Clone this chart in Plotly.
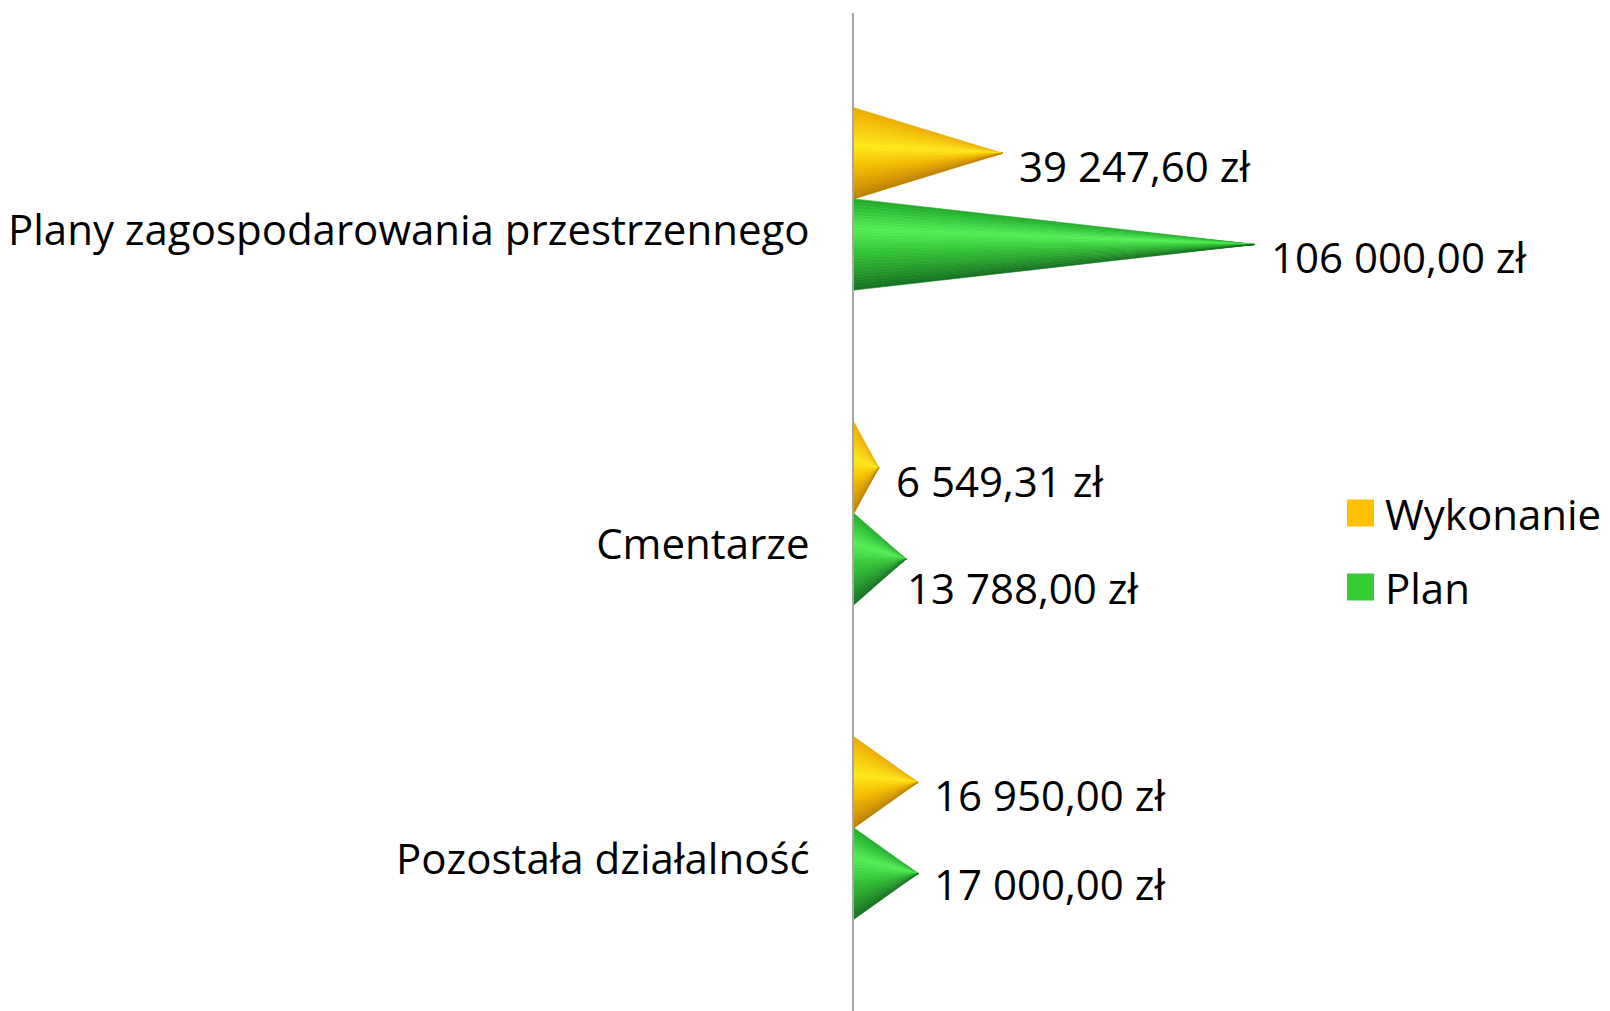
import plotly.graph_objects as go

# ---------------- data ----------------
categories = ["Plany zagospodarowania przestrzennego", "Cmentarze", "Pozostała działalność"]
wykonanie = [39247.60, 6549.31, 16950.00]
plan = [106000.00, 13788.00, 17000.00]
series_names = ["Wykonanie", "Plan"]

# ---------------- style ----------------
W, H = 1610, 1011
FONT = "Open Sans"
FS = 42
legend_colors = ["#FFC000", "#33CC33"]
grad_stops = [
    [(0.0, "#EBAA00"), (0.42, "#FFE81A"), (0.65, "#F4BE00"), (0.88, "#D49600"), (1.0, "#B88000")],
    [(0.0, "#1FAA2A"), (0.33, "#55EE55"), (0.6, "#33C236"), (0.85, "#22922A"), (1.0, "#157020")],
]
# label offsets (px) per series per category
label_dx = [[15, 15, 14], [14, -1, 14]]
label_dy = [[12, 13, 12], [12, 28, 10]]

HALF = 0.29      # bar thickness in category units
NSTRIP = 28

M_L, M_T = 854, 13
plot_w, plot_h = W - M_L, H - M_T
X_MAX = 200000
Y_RANGE = [2.582, -0.591]


def hex2rgb(h):
    h = h.lstrip("#")
    return tuple(int(h[i:i + 2], 16) for i in (0, 2, 4))


def grad(stops, t):
    for (p0, c0), (p1, c1) in zip(stops[:-1], stops[1:]):
        if p0 <= t <= p1:
            f = (t - p0) / (p1 - p0) if p1 > p0 else 0
            a, b = hex2rgb(c0), hex2rgb(c1)
            return "rgb(%d,%d,%d)" % tuple(round(a[i] + (b[i] - a[i]) * f) for i in range(3))
    return stops[-1][1]


def fmt(v):
    s = f"{v:,.2f}".replace(",", " ").replace(".", ",")
    return s + " zł"


fig = go.Figure()
all_series = [wykonanie, plan]

for s, vals in enumerate(all_series):
    for k in range(NSTRIP):
        xs, ys = [], []
        for i, v in enumerate(vals):
            top = i - HALF + s * HALF
            yc = top + HALF / 2
            ya = top + k * HALF / NSTRIP
            yb = top + (k + 1) * HALF / NSTRIP
            xs += [0, 0, v, 0, None]
            ys += [ya, yb, yc, ya, None]
        col = grad(grad_stops[s], (k + 0.5) / NSTRIP)
        fig.add_trace(go.Scatter(
            x=xs, y=ys, mode="lines", fill="toself", fillcolor=col,
            line=dict(color=col, width=0.6), hoverinfo="skip", showlegend=False,
            name=series_names[s],
        ))

# value labels
for s, vals in enumerate(all_series):
    for i, v in enumerate(vals):
        yc = i - HALF + s * HALF + HALF / 2
        fig.add_annotation(
            x=v, y=yc, xref="x", yref="y", text=fmt(v), showarrow=False,
            xanchor="left", yanchor="middle", xshift=label_dx[s][i], yshift=-label_dy[s][i],
            font=dict(family=FONT, size=FS, color="#000000"),
        )

# manual legend (large square keys)
leg_x0, leg_size = 1347, 27
leg_cy = [513, 587]
for s, name in enumerate(series_names):
    px0, py0 = leg_x0, leg_cy[s] - leg_size / 2
    fig.add_shape(
        type="rect", xref="paper", yref="paper",
        x0=(px0 - M_L) / plot_w, x1=(px0 + leg_size - M_L) / plot_w,
        y0=1 - (py0 + leg_size - M_T) / plot_h, y1=1 - (py0 - M_T) / plot_h,
        fillcolor=legend_colors[s], line=dict(width=0),
    )
    fig.add_annotation(
        xref="paper", yref="paper", x=(1383 - M_L) / plot_w, y=1 - (leg_cy[s] - M_T) / plot_h,
        text=name, showarrow=False, xanchor="left", yanchor="middle",
        font=dict(family=FONT, size=FS, color="#000000"),
    )

fig.update_layout(
    width=W, height=H,
    margin=dict(l=M_L, r=0, t=M_T, b=0, pad=0),
    paper_bgcolor="white", plot_bgcolor="white",
    showlegend=False,
    font=dict(family=FONT, size=FS, color="#000000"),
)
fig.update_xaxes(range=[0, X_MAX], showgrid=False, zeroline=False, showticklabels=False,
                 showline=False, fixedrange=True)
fig.update_yaxes(
    range=Y_RANGE, tickmode="array", tickvals=list(range(len(categories))), ticktext=categories,
    showgrid=False, zeroline=False, showline=True, linecolor="#A6A6A6", linewidth=2,
    ticks="", ticklabelstandoff=34, ticklabelshift=-31,
    tickfont=dict(family=FONT, size=FS, color="#000000"),
)

fig.write_html(
    "out.html",
    config={"displayModeBar": False},
    post_script="document.body.style.margin='0';document.body.style.overflow='hidden';",
)
